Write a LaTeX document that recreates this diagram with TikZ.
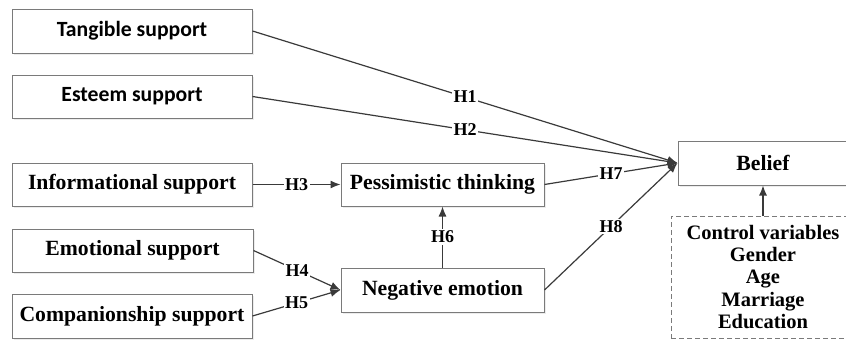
\documentclass[tikz,border=0pt]{standalone}
\usepackage{fontspec}
\setmainfont{Liberation Serif}
\newfontfamily\calib{Carlito}
\usetikzlibrary{arrows.meta,shadows}
\definecolor{linec}{HTML}{3A3A3A}
\definecolor{boxc}{HTML}{7A7A7A}
\begin{document}
\begin{tikzpicture}[x=1pt,y=-1pt,
  box/.style={draw=boxc, line width=1pt, fill=white, inner sep=0pt,
    drop shadow={shadow xshift=1.5pt, shadow yshift=-1.5pt, fill=black!12, opacity=0.6},
    font=\fontsize{21.7}{26}\selectfont\bfseries},
  ctrlbox/.style={draw=boxc, line width=1pt, dashed, dash pattern=on 5pt off 3pt, fill=white, inner sep=0pt, align=center,
    font=\fontsize{20.5}{22.2}\selectfont\bfseries},
  conn/.style={draw=linec, line width=1.2pt, -{Latex[length=10pt,width=8pt]}},
  lbl/.style={fill=white, inner sep=1.5pt, text=black, font=\fontsize{18}{18}\selectfont\bfseries}]
\useasboundingbox (0,0) rectangle (846,340);
\clip (0,0) rectangle (846,340);

\node[box, minimum width=240, minimum height=44] (ts) at (132,31) {\calib Tangible support};
\node[box, minimum width=240, minimum height=43] (es) at (132,96.5) {\calib Esteem support};
\node[box, minimum width=240, minimum height=43] (inf) at (132,184.5) {Informational support};
\node[box, minimum width=241, minimum height=43] (emo) at (132.5,250.5) {Emotional support};
\node[box, minimum width=240, minimum height=44] (comp) at (132,316) {Companionship support};
\node[box, minimum width=203, minimum height=43] (pess) at (442.5,184.5) {Pessimistic thinking};
\node[box, minimum width=203, minimum height=44] (neg) at (442.5,290) {Negative emotion};
\node[box, minimum width=170, minimum height=44] (bel) at (763,163) {Belief};
\node[ctrlbox, minimum width=184, minimum height=122] (ctrl) at (763,277)
  {Control variables\\Gender\\Age\\Marriage\\Education};

\draw[conn] (ts.east) -- node[lbl]{H1} (bel.west);
\draw[conn] (es.east) -- node[lbl]{H2} (bel.west);
\draw[conn] (inf.east) -- node[lbl]{H3} (pess.west);
\draw[conn] (emo.east) -- node[lbl]{H4} (neg.west);
\draw[conn] (comp.east) -- node[lbl]{H5} (neg.west);
\draw[conn] (neg.north) -- node[lbl]{H6} (pess.south);
\draw[conn] (pess.east) -- node[lbl]{H7} (bel.west);
\draw[conn] (neg.east) -- node[lbl]{H8} (bel.west);
\draw[conn] (ctrl.north) -- (bel.south);
\end{tikzpicture}
\end{document}
